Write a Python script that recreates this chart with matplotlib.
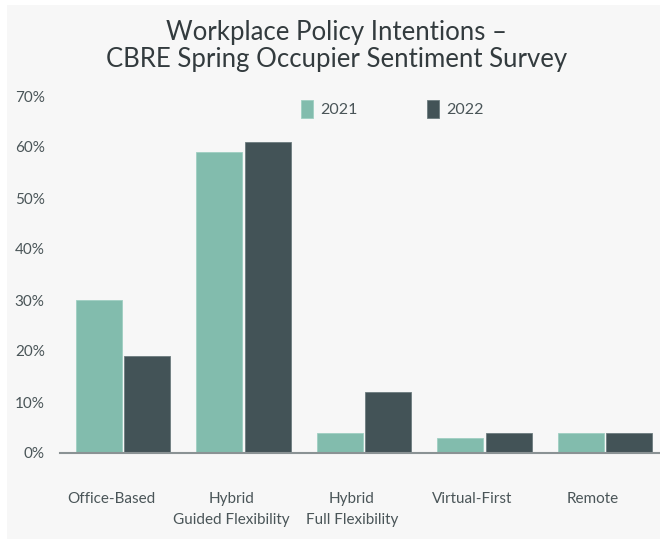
import matplotlib
matplotlib.use("Agg")
import matplotlib.pyplot as plt
import numpy as np
from matplotlib.patches import Rectangle
from matplotlib.transforms import ScaledTranslation

categories = ["Office-Based", "Hybrid\nGuided Flexibility", "Hybrid\nFull Flexibility", "Virtual-First", "Remote"]
series_names = ["2021", "2022"]
values_2021 = [30, 59, 4, 3, 4]
values_2022 = [19, 61, 12, 4, 4]
yticks = [0, 10, 20, 30, 40, 50, 60, 70]
ytick_labels = ["0%", "10%", "20%", "30%", "40%", "50%", "60%", "70%"]
title = "Workplace Policy Intentions \u2013\nCBRE Spring Occupier Sentiment Survey"

c2021 = "#82bcad"
c2022 = "#435357"
txt = "#4a5558"
bg = "#f7f7f7"

plt.rcParams["font.family"] = ["Lato", "DejaVu Sans"]

fig = plt.figure(figsize=(6.6, 5.39), dpi=100)
fig.patch.set_facecolor("white")
fig.patches.append(Rectangle((7/660, 0.5/539), 1 - 7/660, 534/539, transform=fig.transFigure,
                             facecolor=bg, edgecolor="none", zorder=-10))

ax = fig.add_axes([60/660, (539-453)/539, 600/660, (453-96)/539])
ax.set_facecolor("none")

x = np.arange(len(categories))
w = 0.382
off = 0.2
ax.bar(x - off, values_2021, w, color=c2021, label=series_names[0], edgecolor="#9fcfc2", linewidth=0.6)
ax.bar(x + off, values_2022, w, color=c2022, label=series_names[1], edgecolor="#6d7c7f", linewidth=0.6)

ax.set_xlim(-0.523, 4.456)
ax.set_ylim(0, 70)
ax.set_yticks(yticks)
ax.set_yticklabels(ytick_labels)
ax.set_xticks(x)
ax.set_xticklabels(categories, linespacing=1.65)
ax.tick_params(axis="y", length=0, pad=11, labelsize=11, labelcolor=txt)
ax.tick_params(axis="x", length=0, pad=28, labelsize=11, labelcolor=txt)
shift = ScaledTranslation(-12/100, 0, fig.dpi_scale_trans)
for lab in ax.get_xticklabels():
    lab.set_verticalalignment("top")
    lab.set_transform(lab.get_transform() + shift)

for s in ["top", "right", "left"]:
    ax.spines[s].set_visible(False)
ax.spines["bottom"].set_color("#8a9294")
ax.spines["bottom"].set_linewidth(1.5)

leg = ax.legend(loc="upper left", bbox_to_anchor=(0.377, 1.03), ncol=2, frameon=False,
                handlelength=0.8, handleheight=1.4, handletextpad=0.45, columnspacing=4.3,
                fontsize=11.5)
for t in leg.get_texts():
    t.set_color(txt)

fig.text(337/660, 1 - 46/539, title, ha="center", va="center", fontsize=18.5,
         color="#333b3e", linespacing=1.12)

fig.savefig("out.png", dpi=100, facecolor=fig.get_facecolor())
